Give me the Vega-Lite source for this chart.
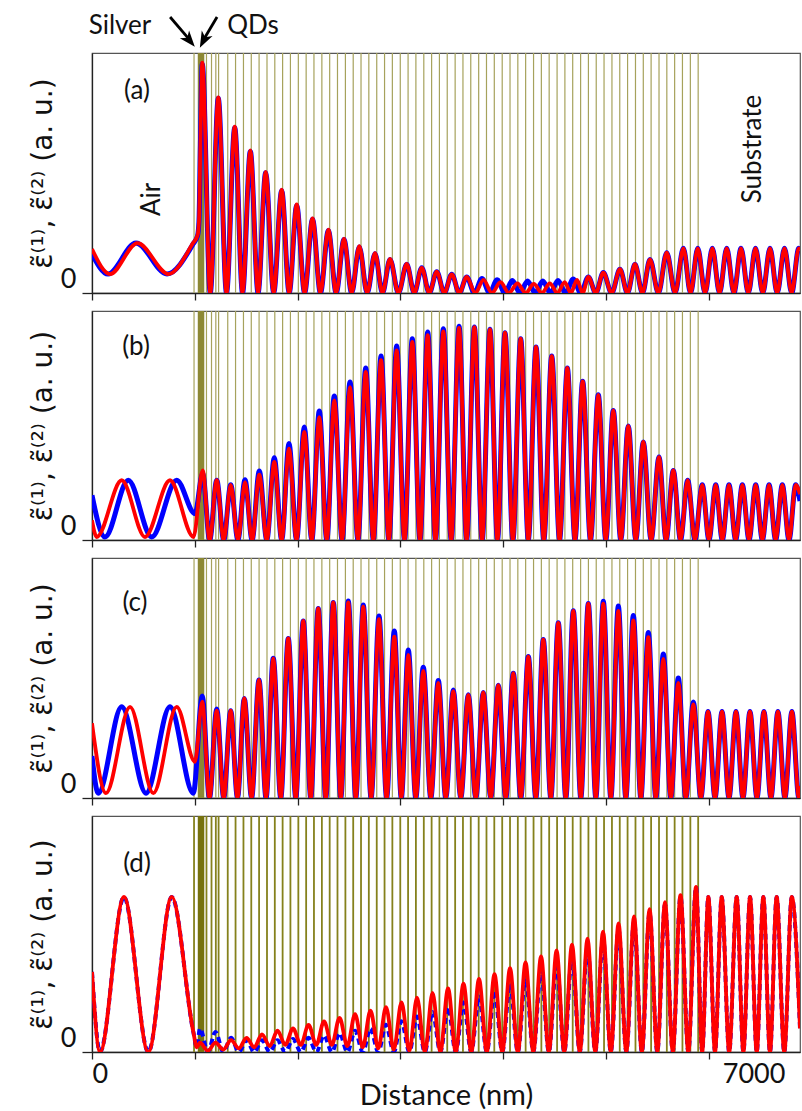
{
"$schema":"https://vega.github.io/schema/vega-lite/v6.json",
"padding":{"left":28,"top":12,"right":0,"bottom":0},
"config":{"view":{"stroke":"#555","strokeWidth":1.2},"font":"Lato",
"axis":{"grid":false,"labelFont":"Lato","titleFont":"Lato","labelFontSize":27,"titleFontSize":27,"titleFontWeight":"normal","domainColor":"#222","tickColor":"#222","labelColor":"#111","titleColor":"#111","domainWidth":1.3,"tickWidth":1.3},
"text":{"font":"Lato","fontSize":26,"color":"#111"}},
"datasets":{
"qd":[{"x":993},{"x":1114},{"x":1163},{"x":1205},{"x":1232},{"x":1321},{"x":1397},{"x":1474},{"x":1550},{"x":1626},{"x":1703},{"x":1779},{"x":1855},{"x":1931},{"x":2008},{"x":2084},{"x":2160},{"x":2237},{"x":2313},{"x":2389},{"x":2466},{"x":2542},{"x":2618},{"x":2694},{"x":2771},{"x":2847},{"x":2923},{"x":3000},{"x":3076},{"x":3152},{"x":3229},{"x":3305},{"x":3381},{"x":3457},{"x":3534},{"x":3610},{"x":3686},{"x":3763},{"x":3839},{"x":3915},{"x":3992},{"x":4068},{"x":4144},{"x":4220},{"x":4297},{"x":4373},{"x":4449},{"x":4526},{"x":4602},{"x":4678},{"x":4755},{"x":4831},{"x":4907},{"x":4983},{"x":5060},{"x":5136},{"x":5212},{"x":5289},{"x":5365},{"x":5441},{"x":5518},{"x":5594},{"x":5670},{"x":5746},{"x":5823},{"x":5899}],
"ab":[{"x":0,"y":0.163},{"x":156,"y":0.079},{"x":428,"y":0.208},{"x":730,"y":0.079},{"x":983,"y":0.204},{"x":1027,"y":0.238},{"x":1041,"y":0.3},{"x":1055,"y":0.62},{"x":1073,"y":0.954},{"x":1151,"y":0},{"x":1229,"y":0.811},{"x":1309,"y":0},{"x":1389,"y":0.689},{"x":1465,"y":0},{"x":1541,"y":0.59},{"x":1616,"y":0},{"x":1690,"y":0.501},{"x":1768,"y":0},{"x":1846,"y":0.427},{"x":1919,"y":0},{"x":1992,"y":0.365},{"x":2069,"y":0},{"x":2146,"y":0.307},{"x":2223,"y":0},{"x":2300,"y":0.26},{"x":2376,"y":0},{"x":2452,"y":0.223},{"x":2527,"y":0},{"x":2601,"y":0.192},{"x":2678,"y":0},{"x":2754,"y":0.164},{"x":2827,"y":0},{"x":2900,"y":0.14},{"x":2982,"y":0},{"x":3063,"y":0.12},{"x":3136,"y":0},{"x":3209,"y":0.105},{"x":3282,"y":0},{"x":3355,"y":0.089},{"x":3428,"y":0},{"x":3501,"y":0.078},{"x":3574,"y":0},{"x":3647,"y":0.067},{"x":3721,"y":0},{"x":3795,"y":0.06},{"x":3869,"y":0},{"x":3943,"y":0.055},{"x":4017,"y":0},{"x":4091,"y":0.052},{"x":4165,"y":0},{"x":4239,"y":0.05},{"x":4313,"y":0},{"x":4387,"y":0.05},{"x":4461,"y":0},{"x":4535,"y":0.052},{"x":4609,"y":0},{"x":4683,"y":0.058},{"x":4757,"y":0},{"x":4830,"y":0.067},{"x":4903,"y":0},{"x":4976,"y":0.085},{"x":5057,"y":0},{"x":5138,"y":0.099},{"x":5211,"y":0},{"x":5284,"y":0.12},{"x":5357,"y":0},{"x":5430,"y":0.14},{"x":5512,"y":0},{"x":5593,"y":0.168},{"x":5674,"y":0},{"x":5755,"y":0.186},{"x":5825,"y":0},{"x":5895,"y":0.186},{"x":5966,"y":0},{"x":6037,"y":0.186},{"x":6107,"y":0},{"x":6177,"y":0.186},{"x":6247,"y":0},{"x":6316,"y":0.186},{"x":6387,"y":0},{"x":6457,"y":0.186},{"x":6528,"y":0},{"x":6598,"y":0.186},{"x":6668,"y":0},{"x":6739,"y":0.186},{"x":6809,"y":0},{"x":6878,"y":0.186},{"x":6890,"y":0.18}],
"ar":[{"x":0,"y":0.183},{"x":175,"y":0.079},{"x":443,"y":0.208},{"x":745,"y":0.079},{"x":983,"y":0.208},{"x":1027,"y":0.24},{"x":1041,"y":0.3},{"x":1055,"y":0.62},{"x":1073,"y":0.96},{"x":1151,"y":0},{"x":1229,"y":0.815},{"x":1309,"y":0},{"x":1389,"y":0.693},{"x":1465,"y":0},{"x":1541,"y":0.594},{"x":1616,"y":0},{"x":1690,"y":0.505},{"x":1768,"y":0},{"x":1846,"y":0.431},{"x":1919,"y":0},{"x":1992,"y":0.369},{"x":2069,"y":0},{"x":2146,"y":0.311},{"x":2223,"y":0},{"x":2300,"y":0.264},{"x":2376,"y":0},{"x":2452,"y":0.226},{"x":2527,"y":0},{"x":2601,"y":0.195},{"x":2678,"y":0},{"x":2754,"y":0.166},{"x":2827,"y":0},{"x":2900,"y":0.142},{"x":2982,"y":0},{"x":3063,"y":0.121},{"x":3136,"y":0},{"x":3209,"y":0.105},{"x":3282,"y":0},{"x":3355,"y":0.089},{"x":3428,"y":0},{"x":3501,"y":0.078},{"x":3574,"y":0},{"x":3647,"y":0.067},{"x":3729,"y":0},{"x":3810,"y":0.055},{"x":3892,"y":0},{"x":3975,"y":0.045},{"x":4057,"y":0},{"x":4140,"y":0.04},{"x":4220,"y":0},{"x":4300,"y":0.038},{"x":4378,"y":0},{"x":4455,"y":0.04},{"x":4528,"y":0},{"x":4600,"y":0.045},{"x":4660,"y":0},{"x":4720,"y":0.055},{"x":4775,"y":0},{"x":4830,"y":0.067},{"x":4903,"y":0},{"x":4976,"y":0.085},{"x":5057,"y":0},{"x":5138,"y":0.099},{"x":5211,"y":0},{"x":5284,"y":0.12},{"x":5357,"y":0},{"x":5430,"y":0.14},{"x":5512,"y":0},{"x":5593,"y":0.168},{"x":5674,"y":0},{"x":5755,"y":0.186},{"x":5825,"y":0},{"x":5895,"y":0.186},{"x":5966,"y":0},{"x":6037,"y":0.186},{"x":6107,"y":0},{"x":6177,"y":0.186},{"x":6247,"y":0},{"x":6316,"y":0.186},{"x":6387,"y":0},{"x":6457,"y":0.186},{"x":6528,"y":0},{"x":6598,"y":0.186},{"x":6668,"y":0},{"x":6739,"y":0.186},{"x":6809,"y":0},{"x":6878,"y":0.186},{"x":6890,"y":0.18}],
"bb":[{"x":0,"y":0.195},{"x":126,"y":0.013},{"x":353,"y":0.261},{"x":581,"y":0.013},{"x":824,"y":0.261},{"x":1002,"y":0.115},{"x":1077,"y":0.29},{"x":1145,"y":0},{"x":1214,"y":0.261},{"x":1282,"y":0},{"x":1350,"y":0.241},{"x":1420,"y":0},{"x":1489,"y":0.263},{"x":1558,"y":0},{"x":1628,"y":0.301},{"x":1701,"y":0},{"x":1774,"y":0.359},{"x":1846,"y":0},{"x":1917,"y":0.421},{"x":1991,"y":0},{"x":2066,"y":0.493},{"x":2139,"y":0},{"x":2212,"y":0.563},{"x":2285,"y":0},{"x":2358,"y":0.629},{"x":2434,"y":0},{"x":2511,"y":0.69},{"x":2588,"y":0},{"x":2664,"y":0.751},{"x":2738,"y":0},{"x":2813,"y":0.803},{"x":2889,"y":0},{"x":2965,"y":0.847},{"x":3041,"y":0},{"x":3117,"y":0.879},{"x":3192,"y":0},{"x":3267,"y":0.908},{"x":3343,"y":0},{"x":3419,"y":0.923},{"x":3496,"y":0},{"x":3572,"y":0.933},{"x":3646,"y":0},{"x":3721,"y":0.93},{"x":3797,"y":0},{"x":3873,"y":0.92},{"x":3946,"y":0},{"x":4019,"y":0.905},{"x":4096,"y":0},{"x":4172,"y":0.879},{"x":4246,"y":0},{"x":4321,"y":0.843},{"x":4397,"y":0},{"x":4474,"y":0.803},{"x":4550,"y":0},{"x":4626,"y":0.751},{"x":4700,"y":0},{"x":4775,"y":0.693},{"x":4851,"y":0},{"x":4927,"y":0.634},{"x":5000,"y":0},{"x":5073,"y":0.566},{"x":5146,"y":0},{"x":5219,"y":0.498},{"x":5292,"y":0},{"x":5365,"y":0.428},{"x":5441,"y":0},{"x":5518,"y":0.362},{"x":5587,"y":0},{"x":5657,"y":0.304},{"x":5727,"y":0},{"x":5797,"y":0.261},{"x":5868,"y":0},{"x":5939,"y":0.241},{"x":6004,"y":0},{"x":6070,"y":0.241},{"x":6134,"y":0},{"x":6199,"y":0.241},{"x":6264,"y":0},{"x":6329,"y":0.241},{"x":6394,"y":0},{"x":6459,"y":0.241},{"x":6524,"y":0},{"x":6589,"y":0.241},{"x":6653,"y":0},{"x":6718,"y":0.241},{"x":6783,"y":0},{"x":6848,"y":0.241},{"x":6890,"y":0.17}],
"br":[{"x":0,"y":0.086},{"x":46,"y":0.013},{"x":289,"y":0.261},{"x":516,"y":0.013},{"x":759,"y":0.261},{"x":988,"y":0.013},{"x":1077,"y":0.304},{"x":1145,"y":0},{"x":1214,"y":0.261},{"x":1282,"y":0},{"x":1350,"y":0.241},{"x":1420,"y":0},{"x":1489,"y":0.253},{"x":1558,"y":0},{"x":1628,"y":0.285},{"x":1701,"y":0},{"x":1774,"y":0.341},{"x":1846,"y":0},{"x":1917,"y":0.399},{"x":1991,"y":0},{"x":2066,"y":0.472},{"x":2139,"y":0},{"x":2212,"y":0.537},{"x":2285,"y":0},{"x":2358,"y":0.61},{"x":2434,"y":0},{"x":2511,"y":0.668},{"x":2588,"y":0},{"x":2664,"y":0.734},{"x":2738,"y":0},{"x":2813,"y":0.785},{"x":2889,"y":0},{"x":2965,"y":0.828},{"x":3041,"y":0},{"x":3117,"y":0.865},{"x":3192,"y":0},{"x":3267,"y":0.894},{"x":3343,"y":0},{"x":3419,"y":0.911},{"x":3496,"y":0},{"x":3572,"y":0.926},{"x":3646,"y":0},{"x":3721,"y":0.93},{"x":3797,"y":0},{"x":3873,"y":0.92},{"x":3946,"y":0},{"x":4019,"y":0.905},{"x":4096,"y":0},{"x":4172,"y":0.879},{"x":4246,"y":0},{"x":4321,"y":0.843},{"x":4397,"y":0},{"x":4474,"y":0.803},{"x":4550,"y":0},{"x":4626,"y":0.751},{"x":4700,"y":0},{"x":4775,"y":0.693},{"x":4851,"y":0},{"x":4927,"y":0.634},{"x":5000,"y":0},{"x":5073,"y":0.566},{"x":5146,"y":0},{"x":5219,"y":0.498},{"x":5292,"y":0},{"x":5365,"y":0.428},{"x":5441,"y":0},{"x":5518,"y":0.362},{"x":5587,"y":0},{"x":5657,"y":0.304},{"x":5727,"y":0},{"x":5797,"y":0.261},{"x":5868,"y":0},{"x":5939,"y":0.241},{"x":6004,"y":0},{"x":6070,"y":0.241},{"x":6134,"y":0},{"x":6199,"y":0.241},{"x":6264,"y":0},{"x":6329,"y":0.241},{"x":6394,"y":0},{"x":6459,"y":0.241},{"x":6524,"y":0},{"x":6589,"y":0.241},{"x":6653,"y":0},{"x":6718,"y":0.241},{"x":6783,"y":0},{"x":6848,"y":0.241},{"x":6890,"y":0.2}],
"cb":[{"x":0,"y":0.175},{"x":61,"y":0.02},{"x":289,"y":0.38},{"x":526,"y":0.02},{"x":759,"y":0.38},{"x":986,"y":0.02},{"x":1073,"y":0.425},{"x":1143,"y":0},{"x":1214,"y":0.371},{"x":1282,"y":0},{"x":1350,"y":0.364},{"x":1416,"y":0},{"x":1482,"y":0.415},{"x":1553,"y":0},{"x":1625,"y":0.492},{"x":1694,"y":0},{"x":1764,"y":0.582},{"x":1837,"y":0},{"x":1910,"y":0.665},{"x":1983,"y":0},{"x":2056,"y":0.738},{"x":2129,"y":0},{"x":2202,"y":0.79},{"x":2275,"y":0},{"x":2348,"y":0.815},{"x":2421,"y":0},{"x":2494,"y":0.821},{"x":2567,"y":0},{"x":2640,"y":0.804},{"x":2716,"y":0},{"x":2793,"y":0.758},{"x":2867,"y":0},{"x":2942,"y":0.696},{"x":3010,"y":0},{"x":3078,"y":0.617},{"x":3151,"y":0},{"x":3224,"y":0.545},{"x":3297,"y":0},{"x":3370,"y":0.49},{"x":3443,"y":0},{"x":3516,"y":0.45},{"x":3589,"y":0},{"x":3662,"y":0.43},{"x":3735,"y":0},{"x":3808,"y":0.44},{"x":3881,"y":0},{"x":3954,"y":0.47},{"x":4027,"y":0},{"x":4100,"y":0.52},{"x":4173,"y":0},{"x":4246,"y":0.59},{"x":4319,"y":0},{"x":4392,"y":0.66},{"x":4465,"y":0},{"x":4538,"y":0.73},{"x":4611,"y":0},{"x":4684,"y":0.78},{"x":4757,"y":0},{"x":4830,"y":0.81},{"x":4903,"y":0},{"x":4976,"y":0.82},{"x":5049,"y":0},{"x":5122,"y":0.8},{"x":5195,"y":0},{"x":5268,"y":0.76},{"x":5341,"y":0},{"x":5414,"y":0.69},{"x":5487,"y":0},{"x":5560,"y":0.6},{"x":5633,"y":0},{"x":5706,"y":0.5},{"x":5779,"y":0},{"x":5852,"y":0.4},{"x":5925,"y":0},{"x":5995,"y":0.36},{"x":6063,"y":0},{"x":6131,"y":0.36},{"x":6199,"y":0},{"x":6267,"y":0.36},{"x":6335,"y":0},{"x":6403,"y":0.36},{"x":6471,"y":0},{"x":6539,"y":0.36},{"x":6607,"y":0},{"x":6675,"y":0.36},{"x":6743,"y":0},{"x":6811,"y":0.36},{"x":6879,"y":0},{"x":6890,"y":0.05}],
"cr":[{"x":0,"y":0.311},{"x":136,"y":0.02},{"x":370,"y":0.38},{"x":597,"y":0.02},{"x":824,"y":0.38},{"x":1002,"y":0.151},{"x":1073,"y":0.401},{"x":1143,"y":0},{"x":1214,"y":0.364},{"x":1282,"y":0},{"x":1350,"y":0.364},{"x":1416,"y":0},{"x":1482,"y":0.415},{"x":1553,"y":0},{"x":1625,"y":0.492},{"x":1694,"y":0},{"x":1764,"y":0.582},{"x":1837,"y":0},{"x":1910,"y":0.665},{"x":1983,"y":0},{"x":2056,"y":0.738},{"x":2129,"y":0},{"x":2202,"y":0.79},{"x":2275,"y":0},{"x":2348,"y":0.815},{"x":2421,"y":0},{"x":2494,"y":0.815},{"x":2567,"y":0},{"x":2640,"y":0.797},{"x":2716,"y":0},{"x":2793,"y":0.745},{"x":2867,"y":0},{"x":2942,"y":0.672},{"x":3010,"y":0},{"x":3078,"y":0.596},{"x":3151,"y":0},{"x":3224,"y":0.53},{"x":3297,"y":0},{"x":3370,"y":0.48},{"x":3443,"y":0},{"x":3516,"y":0.445},{"x":3589,"y":0},{"x":3662,"y":0.43},{"x":3735,"y":0},{"x":3808,"y":0.44},{"x":3881,"y":0},{"x":3954,"y":0.47},{"x":4027,"y":0},{"x":4100,"y":0.52},{"x":4173,"y":0},{"x":4246,"y":0.59},{"x":4319,"y":0},{"x":4392,"y":0.66},{"x":4465,"y":0},{"x":4538,"y":0.73},{"x":4611,"y":0},{"x":4684,"y":0.78},{"x":4757,"y":0},{"x":4830,"y":0.81},{"x":4903,"y":0},{"x":4976,"y":0.81},{"x":5049,"y":0},{"x":5122,"y":0.78},{"x":5195,"y":0},{"x":5268,"y":0.74},{"x":5341,"y":0},{"x":5414,"y":0.67},{"x":5487,"y":0},{"x":5560,"y":0.58},{"x":5633,"y":0},{"x":5706,"y":0.48},{"x":5779,"y":0},{"x":5852,"y":0.39},{"x":5925,"y":0},{"x":5995,"y":0.36},{"x":6063,"y":0},{"x":6131,"y":0.36},{"x":6199,"y":0},{"x":6267,"y":0.36},{"x":6335,"y":0},{"x":6403,"y":0.36},{"x":6471,"y":0},{"x":6539,"y":0.36},{"x":6607,"y":0},{"x":6675,"y":0.36},{"x":6743,"y":0},{"x":6811,"y":0.36},{"x":6879,"y":0},{"x":6890,"y":0.05}],
"db":[{"x":0,"y":0.339},{"x":78,"y":0},{"x":311,"y":0.657},{"x":548,"y":0},{"x":776,"y":0.657},{"x":986,"y":0.085},{"x":1020,"y":0.02},{"x":1051,"y":0.1},{"x":1127,"y":0},{"x":1202,"y":0.085},{"x":1278,"y":0},{"x":1353,"y":0.06},{"x":1429,"y":0},{"x":1504,"y":0.05},{"x":1579,"y":0},{"x":1654,"y":0.05},{"x":1730,"y":0},{"x":1805,"y":0.05},{"x":1881,"y":0},{"x":1956,"y":0.055},{"x":2032,"y":0},{"x":2107,"y":0.06},{"x":2183,"y":0},{"x":2258,"y":0.07},{"x":2334,"y":0},{"x":2409,"y":0.08},{"x":2485,"y":0},{"x":2560,"y":0.09},{"x":2635,"y":0},{"x":2710,"y":0.1},{"x":2786,"y":0},{"x":2861,"y":0.115},{"x":2937,"y":0},{"x":3012,"y":0.13},{"x":3088,"y":0},{"x":3163,"y":0.15},{"x":3239,"y":0},{"x":3314,"y":0.17},{"x":3390,"y":0},{"x":3465,"y":0.19},{"x":3540,"y":0},{"x":3615,"y":0.21},{"x":3691,"y":0},{"x":3766,"y":0.235},{"x":3842,"y":0},{"x":3917,"y":0.26},{"x":3993,"y":0},{"x":4068,"y":0.29},{"x":4144,"y":0},{"x":4219,"y":0.32},{"x":4295,"y":0},{"x":4370,"y":0.35},{"x":4446,"y":0},{"x":4521,"y":0.38},{"x":4596,"y":0},{"x":4671,"y":0.41},{"x":4747,"y":0},{"x":4822,"y":0.44},{"x":4898,"y":0},{"x":4973,"y":0.48},{"x":5049,"y":0},{"x":5124,"y":0.52},{"x":5200,"y":0},{"x":5275,"y":0.555},{"x":5351,"y":0},{"x":5426,"y":0.59},{"x":5501,"y":0},{"x":5576,"y":0.625},{"x":5652,"y":0},{"x":5727,"y":0.66},{"x":5803,"y":0},{"x":5878,"y":0.7},{"x":5938,"y":0},{"x":5998,"y":0.657},{"x":6063,"y":0},{"x":6128,"y":0.657},{"x":6201,"y":0},{"x":6274,"y":0.657},{"x":6339,"y":0},{"x":6404,"y":0.657},{"x":6469,"y":0},{"x":6533,"y":0.657},{"x":6598,"y":0},{"x":6663,"y":0.657},{"x":6737,"y":0},{"x":6810,"y":0.657},{"x":6890,"y":0.1}],
"dr":[{"x":0,"y":0.339},{"x":78,"y":0},{"x":311,"y":0.657},{"x":548,"y":0},{"x":776,"y":0.657},{"x":986,"y":0.085},{"x":1020,"y":0.02},{"x":1051,"y":0.04},{"x":1127,"y":0.005},{"x":1202,"y":0.04},{"x":1278,"y":0.01},{"x":1353,"y":0.05},{"x":1429,"y":0.015},{"x":1504,"y":0.06},{"x":1579,"y":0.02},{"x":1654,"y":0.075},{"x":1730,"y":0.025},{"x":1805,"y":0.09},{"x":1881,"y":0.03},{"x":1956,"y":0.1},{"x":2032,"y":0.03},{"x":2107,"y":0.115},{"x":2183,"y":0.03},{"x":2258,"y":0.13},{"x":2334,"y":0.03},{"x":2409,"y":0.145},{"x":2485,"y":0.025},{"x":2560,"y":0.16},{"x":2635,"y":0.02},{"x":2710,"y":0.175},{"x":2786,"y":0.015},{"x":2861,"y":0.19},{"x":2937,"y":0.01},{"x":3012,"y":0.21},{"x":3088,"y":0.005},{"x":3163,"y":0.23},{"x":3239,"y":0},{"x":3314,"y":0.25},{"x":3390,"y":0},{"x":3465,"y":0.27},{"x":3540,"y":0},{"x":3615,"y":0.29},{"x":3691,"y":0},{"x":3766,"y":0.31},{"x":3842,"y":0},{"x":3917,"y":0.33},{"x":3993,"y":0},{"x":4068,"y":0.355},{"x":4144,"y":0},{"x":4219,"y":0.38},{"x":4295,"y":0},{"x":4370,"y":0.405},{"x":4446,"y":0},{"x":4521,"y":0.43},{"x":4596,"y":0},{"x":4671,"y":0.455},{"x":4747,"y":0},{"x":4822,"y":0.48},{"x":4898,"y":0},{"x":4973,"y":0.51},{"x":5049,"y":0},{"x":5124,"y":0.545},{"x":5200,"y":0},{"x":5275,"y":0.575},{"x":5351,"y":0},{"x":5426,"y":0.605},{"x":5501,"y":0},{"x":5576,"y":0.635},{"x":5652,"y":0},{"x":5727,"y":0.665},{"x":5803,"y":0},{"x":5878,"y":0.7},{"x":5938,"y":0},{"x":5998,"y":0.657},{"x":6063,"y":0},{"x":6128,"y":0.657},{"x":6201,"y":0},{"x":6274,"y":0.657},{"x":6339,"y":0},{"x":6404,"y":0.657},{"x":6469,"y":0},{"x":6533,"y":0.657},{"x":6598,"y":0},{"x":6663,"y":0.657},{"x":6737,"y":0},{"x":6810,"y":0.657},{"x":6890,"y":0.1}]
},
"bounds":"flush",
"spacing":18,
"vconcat":[
{"width":708,"height":240,
"encoding":{"x":{"field":"x","type":"quantitative","scale":{"domain":[0,6890],"nice":false,"zero":false},"axis":{"values":[0,1000,2000,3000,4000,5000,6000],"labels":false,"tickSize":7,"title":null}}},
"layer":[
{"data":{"name":"qd"},"mark":{"type":"rule","color":"#a6a25c","strokeWidth":1.2},"encoding":{}},
{"data":{"values":[{"x":1061}]},"mark":{"type":"rule","color":"#8c8834","strokeWidth":6.5},"encoding":{}},
{"data":{"name":"ab"},"mark":{"type":"line","color":"#0000ff","strokeWidth":5,"interpolate":"monotone","clip":true},"encoding":{"y":{"field":"y","type":"quantitative","scale":{"domain":[0,1],"nice":false},"axis":{"values":[0],"labelExpr":"'0'","tickSize":10,"labelPadding":6,"labelBaseline":"bottom","title":"ε̃⁽¹⁾, ε̃⁽²⁾ (a. u.)","titleFont":"DejaVu Sans","titleFontSize":28,"titlePadding":3}}}},
{"data":{"name":"ar"},"mark":{"type":"line","color":"#ff0000","strokeWidth":3.8,"interpolate":"monotone","clip":true},"encoding":{"y":{"field":"y","type":"quantitative","scale":{"domain":[0,1],"nice":false},"axis":{"values":[0],"labelExpr":"'0'","tickSize":10,"labelPadding":6,"labelBaseline":"bottom","title":"ε̃⁽¹⁾, ε̃⁽²⁾ (a. u.)","titleFont":"DejaVu Sans","titleFontSize":28,"titlePadding":3}}}},
{"data":{"values":[{"x":438,"y":0.842,"t":"(a)","a":0},{"x":584,"y":0.39,"t":"Air","a":270},{"x":6432,"y":0.6,"t":"Substrate","a":270},{"x":272,"y":1.1125,"t":"Silver","a":0},{"x":1567,"y":1.1125,"t":"QDs","a":0}]},"mark":{"type":"text","fontSize":26},"encoding":{"y":{"field":"y","type":"quantitative","scale":{"domain":[0,1],"nice":false},"axis":{"values":[0],"labelExpr":"'0'","tickSize":10,"labelPadding":6,"labelBaseline":"bottom","title":"ε̃⁽¹⁾, ε̃⁽²⁾ (a. u.)","titleFont":"DejaVu Sans","titleFontSize":28,"titlePadding":3}},"text":{"field":"t"},"angle":{"field":"a","type":"quantitative","scale":null}}},
{"data":{"values":[{"x":760,"y":1.15,"x2":944,"y2":1.058},{"x":1217,"y":1.15,"x2":1090,"y2":1.058}]},"mark":{"type":"rule","color":"#000","strokeWidth":2.8},"encoding":{"y":{"field":"y","type":"quantitative","scale":{"domain":[0,1],"nice":false},"axis":{"values":[0],"labelExpr":"'0'","tickSize":10,"labelPadding":6,"labelBaseline":"bottom","title":"ε̃⁽¹⁾, ε̃⁽²⁾ (a. u.)","titleFont":"DejaVu Sans","titleFontSize":28,"titlePadding":3}},"x2":{"field":"x2"},"y2":{"field":"y2"}}},
{"data":{"values":[{"x":950,"y":1.052,"a":140},{"x":1085,"y":1.052,"a":207}]},"mark":{"type":"point","filled":true,"color":"#000","opacity":1,"size":260,"shape":"M0,-1L0.75,1L0,0.45L-0.75,1Z"},"encoding":{"y":{"field":"y","type":"quantitative","scale":{"domain":[0,1],"nice":false},"axis":{"values":[0],"labelExpr":"'0'","tickSize":10,"labelPadding":6,"labelBaseline":"bottom","title":"ε̃⁽¹⁾, ε̃⁽²⁾ (a. u.)","titleFont":"DejaVu Sans","titleFontSize":28,"titlePadding":3}},"angle":{"field":"a","type":"quantitative","scale":null}}}
]},
{"width":708,"height":229,
"encoding":{"x":{"field":"x","type":"quantitative","scale":{"domain":[0,6890],"nice":false,"zero":false},"axis":{"values":[0,1000,2000,3000,4000,5000,6000],"labels":false,"tickSize":7,"title":null}}},
"layer":[
{"data":{"name":"qd"},"mark":{"type":"rule","color":"#a6a25c","strokeWidth":1.2},"encoding":{}},
{"data":{"values":[{"x":1061}]},"mark":{"type":"rule","color":"#8c8834","strokeWidth":6.5},"encoding":{}},
{"data":{"name":"bb"},"mark":{"type":"line","color":"#0000ff","strokeWidth":5,"interpolate":"monotone","clip":true},"encoding":{"y":{"field":"y","type":"quantitative","scale":{"domain":[0,1],"nice":false},"axis":{"values":[0],"labelExpr":"'0'","tickSize":10,"labelPadding":6,"labelBaseline":"bottom","title":"ε̃⁽¹⁾, ε̃⁽²⁾ (a. u.)","titleFont":"DejaVu Sans","titleFontSize":28,"titlePadding":3}}}},
{"data":{"name":"br"},"mark":{"type":"line","color":"#ff0000","strokeWidth":3.8,"interpolate":"monotone","clip":true},"encoding":{"y":{"field":"y","type":"quantitative","scale":{"domain":[0,1],"nice":false},"axis":{"values":[0],"labelExpr":"'0'","tickSize":10,"labelPadding":6,"labelBaseline":"bottom","title":"ε̃⁽¹⁾, ε̃⁽²⁾ (a. u.)","titleFont":"DejaVu Sans","titleFontSize":28,"titlePadding":3}}}},
{"data":{"values":[{"x":428,"y":0.843,"t":"(b)"}]},"mark":{"type":"text","fontSize":26},"encoding":{"y":{"field":"y","type":"quantitative","scale":{"domain":[0,1],"nice":false},"axis":{"values":[0],"labelExpr":"'0'","tickSize":10,"labelPadding":6,"labelBaseline":"bottom","title":"ε̃⁽¹⁾, ε̃⁽²⁾ (a. u.)","titleFont":"DejaVu Sans","titleFontSize":28,"titlePadding":3}},"text":{"field":"t"}}}
]},
{"width":708,"height":240,
"encoding":{"x":{"field":"x","type":"quantitative","scale":{"domain":[0,6890],"nice":false,"zero":false},"axis":{"values":[0,1000,2000,3000,4000,5000,6000],"labels":false,"tickSize":7,"title":null}}},
"layer":[
{"data":{"name":"qd"},"mark":{"type":"rule","color":"#a6a25c","strokeWidth":1.2},"encoding":{}},
{"data":{"values":[{"x":1061}]},"mark":{"type":"rule","color":"#8c8834","strokeWidth":6.5},"encoding":{}},
{"data":{"name":"cb"},"mark":{"type":"line","color":"#0000ff","strokeWidth":5,"interpolate":"monotone","clip":true},"encoding":{"y":{"field":"y","type":"quantitative","scale":{"domain":[0,1],"nice":false},"axis":{"values":[0],"labelExpr":"'0'","tickSize":10,"labelPadding":6,"labelBaseline":"bottom","title":"ε̃⁽¹⁾, ε̃⁽²⁾ (a. u.)","titleFont":"DejaVu Sans","titleFontSize":28,"titlePadding":3}}}},
{"data":{"name":"cr"},"mark":{"type":"line","color":"#ff0000","strokeWidth":3.8,"interpolate":"monotone","clip":true},"encoding":{"y":{"field":"y","type":"quantitative","scale":{"domain":[0,1],"nice":false},"axis":{"values":[0],"labelExpr":"'0'","tickSize":10,"labelPadding":6,"labelBaseline":"bottom","title":"ε̃⁽¹⁾, ε̃⁽²⁾ (a. u.)","titleFont":"DejaVu Sans","titleFontSize":28,"titlePadding":3}}}},
{"data":{"values":[{"x":418,"y":0.811,"t":"(c)"}]},"mark":{"type":"text","fontSize":26},"encoding":{"y":{"field":"y","type":"quantitative","scale":{"domain":[0,1],"nice":false},"axis":{"values":[0],"labelExpr":"'0'","tickSize":10,"labelPadding":6,"labelBaseline":"bottom","title":"ε̃⁽¹⁾, ε̃⁽²⁾ (a. u.)","titleFont":"DejaVu Sans","titleFontSize":28,"titlePadding":3}},"text":{"field":"t"}}}
]},
{"width":708,"height":236,
"encoding":{"x":{"field":"x","type":"quantitative","scale":{"domain":[0,6890],"nice":false,"zero":false},"axis":{"values":[0,1000,2000,3000,4000,5000,6000],"labelExpr":"datum.value==0?'0':(datum.value==6000?'7000':'')","labelOffset":{"condition":{"test":"datum.value==6000","value":45},"value":0},"labelPadding":2,"tickSize":7,"title":"Distance (nm)","titleFontSize":29,"titlePadding":-6}}},
"layer":[
{"data":{"name":"qd"},"mark":{"type":"rule","color":"#85811c","strokeWidth":1.8},"encoding":{}},
{"data":{"values":[{"x":1061}]},"mark":{"type":"rule","color":"#76720e","strokeWidth":6.5},"encoding":{}},
{"data":{"name":"db"},"mark":{"type":"line","color":"#0000ff","strokeWidth":4,"strokeDash":[6,4],"interpolate":"monotone","clip":true},"encoding":{"y":{"field":"y","type":"quantitative","scale":{"domain":[0,1],"nice":false},"axis":{"values":[0],"labelExpr":"'0'","tickSize":10,"labelPadding":6,"labelBaseline":"bottom","title":"ε̃⁽¹⁾, ε̃⁽²⁾ (a. u.)","titleFont":"DejaVu Sans","titleFontSize":28,"titlePadding":3}}}},
{"data":{"name":"dr"},"mark":{"type":"line","color":"#ff0000","strokeWidth":3.8,"interpolate":"monotone","clip":true},"encoding":{"y":{"field":"y","type":"quantitative","scale":{"domain":[0,1],"nice":false},"axis":{"values":[0],"labelExpr":"'0'","tickSize":10,"labelPadding":6,"labelBaseline":"bottom","title":"ε̃⁽¹⁾, ε̃⁽²⁾ (a. u.)","titleFont":"DejaVu Sans","titleFontSize":28,"titlePadding":3}}}},
{"data":{"values":[{"x":438,"y":0.797,"t":"(d)"}]},"mark":{"type":"text","fontSize":26},"encoding":{"y":{"field":"y","type":"quantitative","scale":{"domain":[0,1],"nice":false},"axis":{"values":[0],"labelExpr":"'0'","tickSize":10,"labelPadding":6,"labelBaseline":"bottom","title":"ε̃⁽¹⁾, ε̃⁽²⁾ (a. u.)","titleFont":"DejaVu Sans","titleFontSize":28,"titlePadding":3}},"text":{"field":"t"}}}
]}
]
}
